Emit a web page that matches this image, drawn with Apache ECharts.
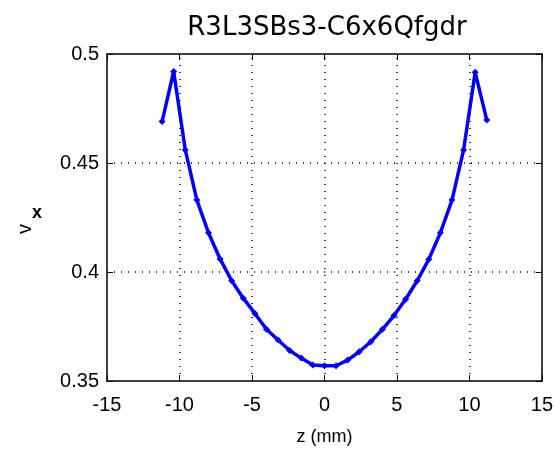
<!DOCTYPE html>
<html><head><meta charset="utf-8">
<script src="https://cdn.jsdelivr.net/npm/echarts@6/dist/echarts.min.js"></script>
<style>html,body{margin:0;padding:0;background:#fff}#c{width:556px;height:453px}</style>
</head><body><div id="c"></div>
<script>
var titleText = 'R3L3SBs3-C6x6Qfgdr';
var xLabel = 'z (mm)';
var zValues = [-11.2,-10.4,-9.6,-8.8,-8.0,-7.2,-6.4,-5.6,-4.8,-4.0,-3.2,-2.4,-1.6,-0.8,0,0.8,1.6,2.4,3.2,4.0,4.8,5.6,6.4,7.2,8.0,8.8,9.6,10.4,11.2];
var vxValues = [0.469,0.492,0.456,0.433,0.418,0.406,0.396,0.388,0.381,0.3737,0.3688,0.364,0.3605,0.3573,0.357,0.357,0.3596,0.3634,0.368,0.3737,0.380,0.3875,0.396,0.4058,0.418,0.433,0.456,0.4916,0.4697];
var xTicks = [-15,-10,-5,0,5,10,15];
var yTicks = [0.35,0.4,0.45,0.5];

var chart = echarts.init(document.getElementById('c'));
var font = 'Liberation Sans, Arial, sans-serif';
var data = zValues.map(function(z,i){return [z, vxValues[i]];});
chart.setOption({
  animation:false,
  backgroundColor:'#fff',
  title:{text:titleText, left:322, top:10, textAlign:'center',
    textStyle:{fontFamily:'DejaVu Sans, sans-serif', fontSize:26, fontWeight:'normal', color:'#000'}},
  grid:{left:107, right:11, top:54, bottom:72, show:false},
  xAxis:[{
    type:'value', min:-15, max:15, interval:5, position:'bottom',
    name:xLabel, nameLocation:'middle', nameGap:47,
    nameTextStyle:{fontFamily:font, fontSize:18, color:'#000'},
    axisLine:{show:true, onZero:false, lineStyle:{color:'#000', width:1.5}},
    axisTick:{show:true, inside:true, length:6, lineStyle:{color:'#000'}},
    axisLabel:{fontFamily:font, fontSize:20, color:'#000', margin:14},
    splitLine:{show:false}
  },{
    type:'value', min:-15, max:15, interval:5, position:'top',
    axisLine:{show:true, onZero:false, lineStyle:{color:'#000', width:1.5}},
    axisTick:{show:true, inside:true, length:6, lineStyle:{color:'#000'}},
    axisLabel:{show:false}, splitLine:{show:false}
  }],
  yAxis:[{
    type:'value', min:0.35, max:0.5, interval:0.05, position:'left',
    axisLine:{show:true, onZero:false, lineStyle:{color:'#000', width:1.5}},
    axisTick:{show:true, inside:true, length:6, lineStyle:{color:'#000'}},
    axisLabel:{fontFamily:font, fontSize:20, color:'#000', margin:8,
      formatter:function(v){return String(+v.toFixed(2));}},
    splitLine:{show:false}
  },{
    type:'value', min:0.35, max:0.5, interval:0.05, position:'right',
    axisLine:{show:true, onZero:false, lineStyle:{color:'#000', width:1.5}},
    axisTick:{show:true, inside:true, length:6, lineStyle:{color:'#000'}},
    axisLabel:{show:false}, splitLine:{show:false}
  }],
  series:[{
    type:'line', data:data, xAxisIndex:0, yAxisIndex:0,
    lineStyle:{color:'#0000ff', width:3.5},
    symbol:'diamond', symbolSize:7,
    itemStyle:{color:'#0000ff'},
    markLine:{
      silent:true, symbol:'none', label:{show:false},
      lineStyle:{color:'#000', type:[1,6], width:1.5},
      data:[{xAxis:-10},{xAxis:-5},{xAxis:0},{xAxis:5},{xAxis:10},{yAxis:0.4},{yAxis:0.45}]
    },
    z:3
  }],
  graphic:[
    {type:'text', left:15, top:224, rotation:Math.PI/2,
      style:{text:'v', font:'20px '+font, fill:'#000'}},
    {type:'text', left:32, top:204,
      style:{text:'x', font:'bold 18px '+font, fill:'#000'}}
  ]
});
</script></body></html>
